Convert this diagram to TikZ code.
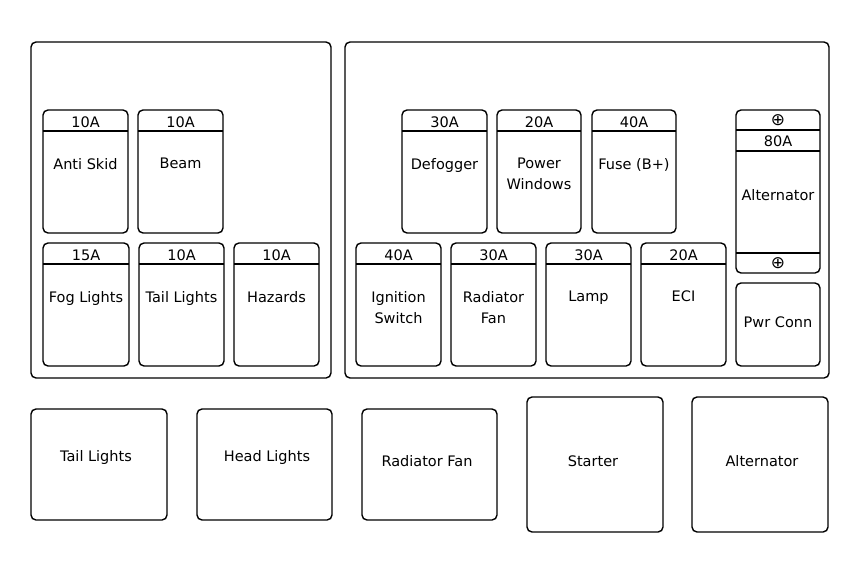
\documentclass[tikz,border=0pt]{standalone}
\usepackage{fontspec}
\setmainfont{DejaVu Sans}
\begin{document}
\begin{tikzpicture}[x=1pt,y=-1pt,
  box/.style={draw=black,line width=1.4pt,rounded corners=5pt},
  lbl/.style={font=\fontsize{14.5}{17}\selectfont,align=center,inner sep=0pt}]
\useasboundingbox (0,0) rectangle (860,571);
\fill[white] (0,0) rectangle (860,571);
\draw[box] (31,42) rectangle (331,378);
\draw[box] (345,42) rectangle (829,378);
\newcommand\fuse[6]{%
  \draw[box] (#1,#2) rectangle (#3,#4);
  \draw[line width=1.4pt] (#1,#2+21) -- (#3,#2+21);
  \node[lbl] (a#1#2) at ({(#1+#3)/2},#2+12) {#5};
  \node[lbl,anchor=north] (l#1#2) at ({(#1+#3)/2},#2+48) {#6};}
\fuse{43}{110}{128}{233}{10A}{Anti Skid}
\fuse{138}{110}{223}{233}{10A}{Beam}
\fuse{43}{243}{129}{366}{15A}{Fog Lights}
\fuse{139}{243}{224}{366}{10A}{Tail Lights}
\fuse{234}{243}{319}{366}{10A}{Hazards}
\fuse{402}{110}{487}{233}{30A}{Defogger}
\fuse{497}{110}{581}{233}{20A}{Power\\[4pt]Windows}
\fuse{592}{110}{676}{233}{40A}{Fuse (B+)}
\fuse{356}{243}{441}{366}{40A}{Ignition\\[4pt]Switch}
\fuse{451}{243}{536}{366}{30A}{Radiator\\[4pt]Fan}
\fuse{546}{243}{631}{366}{30A}{Lamp}
\fuse{641}{243}{726}{366}{20A}{ECI}
\draw[box] (736,110) rectangle (820,273);
\draw[line width=1.4pt] (736,130) -- (820,130) (736,151) -- (820,151) (736,253) -- (820,253);
\node[lbl,font=\fontsize{17}{17}\selectfont] (p1) at (778,120) {\symbol{"2295}};
\node[lbl] (a80) at (778,141) {80A};
\node[lbl] (alt) at (778,195) {Alternator};
\node[lbl,font=\fontsize{17}{17}\selectfont] (p2) at (778,263) {\symbol{"2295}};
\draw[box] (736,283) rectangle (820,366);
\node[lbl] (pwr) at (778,322) {Pwr Conn};
\draw[box] (31,409) rectangle (167,520); \node[lbl] (b1) at (96,457) {Tail Lights};
\draw[box] (197,409) rectangle (332,520); \node[lbl] (b2) at (267,457) {Head Lights};
\draw[box] (362,409) rectangle (497,520); \node[lbl] (b3) at (427,461) {Radiator Fan};
\draw[box] (527,397) rectangle (663,532); \node[lbl] (b4) at (593,461) {Starter};
\draw[box] (692,397) rectangle (828,532); \node[lbl] (b5) at (762,461) {Alternator};
\end{tikzpicture}
\end{document}
